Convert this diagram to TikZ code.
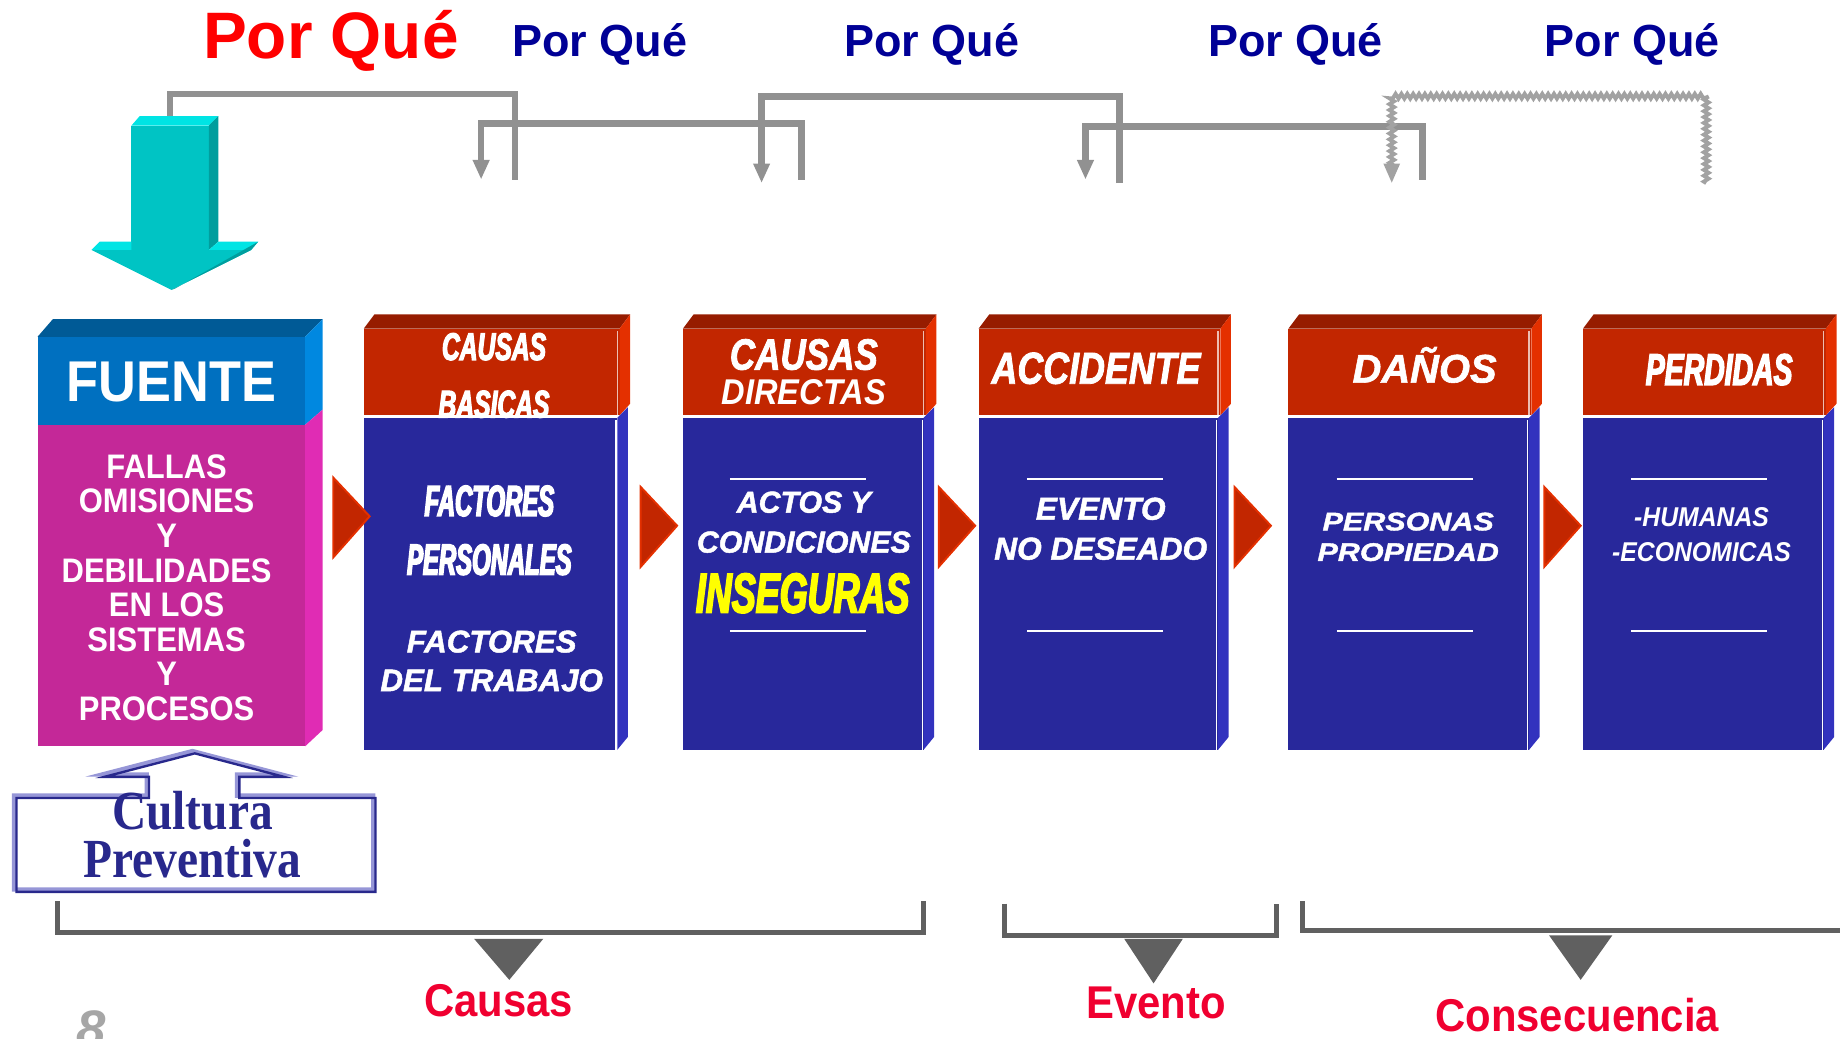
\documentclass[tikz,border=0pt]{standalone}
\usepackage{fontspec}
\setmainfont{Liberation Sans}
\newfontfamily\fxcond[FakeStretch=0.55,FakeBold=3.5]{Liberation Sans}
\newfontfamily\fcond[FakeStretch=0.64,FakeBold=3]{Liberation Sans}
\newfontfamily\fnarrow[FakeStretch=0.8,FakeBold=1.8]{Liberation Sans}
\newfontfamily\fslim[FakeStretch=0.91]{Liberation Sans}
\newfontfamily\fheavy[FakeBold=1.5]{Liberation Sans}
\newfontfamily\fwide[FakeStretch=1.2,FakeBold=1.5]{Liberation Sans}
\newfontfamily\fserif[FakeStretch=0.86]{Liberation Serif}
\newcommand{\fsz}[2]{\fontsize{#1}{#2}\selectfont}
\usetikzlibrary{arrows.meta,decorations.pathmorphing}
\definecolor{headred}{RGB}{194,38,0}
\definecolor{headtop}{RGB}{150,28,0}
\definecolor{headside}{RGB}{228,48,0}
\definecolor{bodyblue}{RGB}{40,40,155}
\definecolor{bodyside}{RGB}{50,50,190}
\definecolor{fuenblue}{RGB}{0,112,192}
\definecolor{fuentop}{RGB}{0,90,150}
\definecolor{fuenside}{RGB}{0,136,224}
\definecolor{magfront}{RGB}{196,40,152}
\definecolor{magside}{RGB}{224,44,180}
\definecolor{cyanfront}{RGB}{0,196,196}
\definecolor{cyantop}{RGB}{0,228,228}
\definecolor{cyanside}{RGB}{0,158,158}
\definecolor{porqueblue}{RGB}{0,0,150}
\definecolor{porquered}{RGB}{255,0,0}
\definecolor{labelred}{RGB}{240,0,48}
\definecolor{brackgray}{RGB}{96,96,96}
\definecolor{conngray}{RGB}{145,145,145}
\definecolor{culnavy}{RGB}{40,40,140}
\definecolor{cullav}{RGB}{150,150,215}
\definecolor{insyellow}{RGB}{255,255,0}
\begin{document}
\begin{tikzpicture}[x=0.6pt,y=-0.6pt,
    txt/.style={text=white, inner sep=0pt, align=center},
    conn/.style={draw=conngray, line width=3.4pt},
    tip/.style={-{Triangle[length=10pt,width=8pt]}},
    brack/.style={draw=brackgray, line width=2.6pt},
    rule/.style={draw=white, line width=1pt},
    lbl/.style={text=labelred, inner sep=0pt, anchor=base, font=\fslim\bfseries\fsz{23.5}{24}},
    porque/.style={text=porqueblue, inner sep=0pt, anchor=base, font=\bfseries\fsz{23}{24}}]
    \useasboundingbox (0,0) rectangle (1568,885);
    \clip (0,0) rectangle (1568,885);

    % Por Que labels
    \node[porque, text=porquered, font=\bfseries\fsz{33.6}{34}] (pq0) at (282,50) {Por Qué};
    \node[porque] (pq1) at (511,48) {Por Qué};
    \node[porque] (pq2) at (794,48) {Por Qué};
    \node[porque] (pq3) at (1104,48) {Por Qué};
    \node[porque] (pq4) at (1391,48) {Por Qué};

    % cyan arrow
    \fill[cyanfront] (112,107) rectangle (178,213);
    \fill[cyantop] (112,107) -- (119,99) -- (186,99) -- (178,107) -- cycle;
    \fill[cyanside] (178,107) -- (186,99) -- (186,206) -- (178,213) -- cycle;
    \fill[cyanfront] (78,213) -- (214,213) -- (146,247) -- cycle;
    \fill[cyantop] (78,213) -- (85,206) -- (112,206) -- (112,213) -- cycle;
    \fill[cyantop] (186,206) -- (220,206) -- (214,213) -- (178,213) -- cycle;
    \fill[cyanside] (214,213) -- (220,206) -- (149,246) -- (146,247) -- cycle;

    % connectors
    \coordinate (fa) at (145,99);
    \coordinate (fb) at (439,153);
    \coordinate (b1) at (410,153);
    \coordinate (b2) at (683,153);
    \coordinate (c1) at (649,156);
    \coordinate (c2) at (954,156);
    \coordinate (d1) at (925,153);
    \coordinate (d2) at (1212,153);
    \coordinate (e1) at (1186,156);
    \coordinate (e2) at (1454,156);
    \draw[conn] (fb) -- ++(0,-73) -| (fa);
    \draw[conn, tip] (b2) -- ++(0,-48) -| (b1);
    \draw[conn, tip] (c2) -- ++(0,-74) -| (c1);
    \draw[conn, tip] (d2) -- ++(0,-45) -| (d1);
    \draw[conn, line width=2pt, draw=conngray!85, tip, decorate,
      decoration={zigzag, segment length=3pt, amplitude=1.2pt, post length=8pt}]
      (e2) -- ++(0,-74) -| (e1);

    % fuente box
    \fill[fuentop] (32,287) -- (45,272) -- (275,272) -- (260,287) -- cycle;
    \fill[fuenblue] (32,287) rectangle (260,362);
    \fill[fuenside] (260,287) -- (275,272) -- (275,349) -- (260,362) -- cycle;
    \fill[magfront] (32,362) rectangle (260,636);
    \fill[magside] (260,362) -- (275,349) -- (275,622) -- (260,636) -- cycle;

    % red and blue boxes
    \foreach \L/\R in {310/528,582/789,834/1040,1098/1305,1349/1556}{
        \fill[headtop] (\L,280) -- (\L+9,268) -- (\R+9,268) -- (\R,280) -- cycle;
        \fill[headred] (\L,280) rectangle (\R,354);
        \fill[headside] (\R,280) -- (\R+9,268) -- (\R+9,344) -- (\R,354) -- cycle;
        \fill[bodyblue] (\L,356) rectangle (\R-2,639);
        \fill[bodyside] (\R-2,356) -- (\R+7,347) -- (\R+7,628) -- (\R-2,639) -- cycle;
        \draw[white, line width=0.6pt] (\R-3,358) -- (\R-3,639);
        \draw[white!70!headred, line width=0.6pt] (\R-2,282) -- (\R-2,354);
    }

    % triangles between boxes
    \foreach \x/\y in {284/407,546/415,800/415,1052/415,1316/415}{
        \filldraw[fill=headred, draw=headside, line width=1pt] (\x,\y) -- (\x+31,\y+33) -- (\x,\y+68) -- cycle;
    }

    % white rules
    \foreach \x in {622,875,1139,1390}{
        \draw[rule] (\x,408) -- (\x+116,408);
        \draw[rule] (\x,538) -- (\x+116,538);
    }

    % texts
    \node[txt, anchor=base, font=\fslim\bfseries\fsz{29.4}{30}] (fuente) at (146,342) {FUENTE};
    \node[txt, anchor=north, font=\fslim\bfseries\fsz{17.4}{17.7}] (fallas) at (142,387)
        {FALLAS\\OMISIONES\\Y\\DEBILIDADES\\EN LOS\\SISTEMAS\\Y\\PROCESOS};
    \node[txt, anchor=north, font=\fcond\bfseries\itshape\fsz{19.7}{29.4}] (cbas) at (421,283.5) {CAUSAS\\BASICAS};
    \node[txt, anchor=north, font=\fxcond\bfseries\itshape\fsz{22.2}{30}] (fper) at (417,413.5) {FACTORES\\PERSONALES};
    \node[txt, anchor=north, font=\fheavy\bfseries\itshape\fsz{16}{19.8}] (ftrab) at (419,537) {FACTORES\\DEL TRABAJO};
    \node[txt, anchor=base, font=\fnarrow\bfseries\itshape\fsz{22.4}{23}] (cdir) at (685,315) {CAUSAS};
    \node[txt, anchor=base, font=\fslim\bfseries\itshape\fsz{18.3}{19}] (cdir2) at (685,345) {DIRECTAS};
    \node[txt, anchor=north, font=\fheavy\bfseries\itshape\fsz{15.5}{20.4}] (actos) at (685,418.5) {ACTOS Y\\CONDICIONES};
    \node[txt, anchor=base, text=insyellow, font=\fcond\bfseries\itshape\fsz{28.7}{29}] (inseg) at (684,522) {INSEGURAS};
    \node[txt, anchor=base, font=\fnarrow\bfseries\itshape\fsz{22.9}{23}] (acc) at (934,327) {ACCIDENTE};
    \node[txt, anchor=north, font=\fheavy\bfseries\itshape\fsz{16.2}{20.4}] (evento) at (938,423.7) {EVENTO\\NO DESEADO};
    \node[txt, anchor=base, font=\fheavy\bfseries\itshape\fsz{20.4}{21}] (danos) at (1214,326) {DAÑOS};
    \node[txt, anchor=north, font=\fwide\bfseries\itshape\fsz{13}{15.6}] (personas) at (1200,436.5) {PERSONAS\\PROPIEDAD};
    \node[txt, anchor=base, font=\fcond\bfseries\itshape\fsz{22.7}{23}] (perd) at (1465,328) {PERDIDAS};
    \node[txt, anchor=north, font=\fslim\bfseries\itshape\fsz{13.9}{18}] (humanas) at (1450,432.4) {-HUMANAS\\-ECONOMICAS};

    % cultura preventiva
    \foreach \dd/\cc/\ww in {0/cullav/2.2pt,2/culnavy/1.2pt}{
        \draw[\cc, line width=\ww, shift={(\dd,\dd)}] (12,678) -- (125,678) -- (125,660) -- (87,660)
            -- (164,640) -- (240,660) -- (202,660) -- (202,678) -- (318,678) -- (318,758) -- (12,758) -- cycle;
    }
    \node[txt, anchor=north, text=culnavy, font=\fserif\bfseries\fsz{28.2}{24.6}] (cultura) at (164,674) {Cultura\\Preventiva};

    % brackets
    \draw[brack] (49,768) |- (787,795) -- (787,768);
    \draw[brack] (856,770) |- (1088,797) -- (1088,770);
    \draw[brack] (1110,768) |- (1570,793);
    \fill[brackgray] (404,800) -- (463,800) -- (434,835) -- cycle;
    \fill[brackgray] (958,800) -- (1008,800) -- (983,838) -- cycle;
    \fill[brackgray] (1320,797) -- (1374,797) -- (1347,835) -- cycle;
    \node[lbl] (causas) at (425,866) {Causas};
    \node[lbl] (evnt) at (985,868) {Evento};
    \node[lbl] (consec) at (1344,879) {Consecuencia};
    \node[inner sep=0pt, anchor=base, text=black!35, font=\bfseries\itshape\fsz{27}{27}] (pag) at (78,893) {8};
\end{tikzpicture}
\end{document}
